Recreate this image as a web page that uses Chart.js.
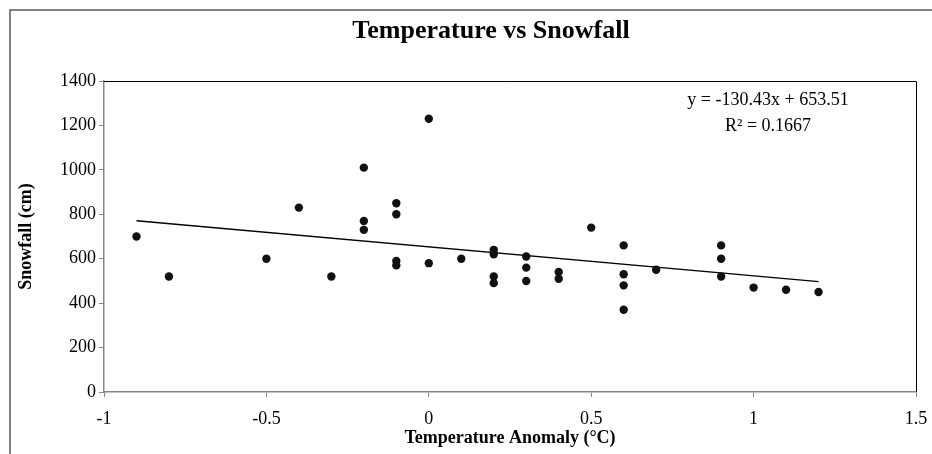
<!DOCTYPE html>
<html><head><meta charset="utf-8">
<script src="https://cdn.jsdelivr.net/npm/chart.js@4/dist/chart.umd.min.js"></script>
<style>html,body{margin:0;padding:0;background:#fff}#wrap{width:932px;height:454px;position:relative}</style>
</head><body><div id="wrap"><canvas id="c" width="932" height="454"></canvas></div>
<script>
// ---- data ----
const temperatureAnomaly = [-0.9,-0.8,-0.5,-0.4,-0.3,-0.2,-0.2,-0.2,-0.1,-0.1,-0.1,-0.1,0,0,0.1,0.2,0.2,0.2,0.2,0.3,0.3,0.3,0.4,0.4,0.5,0.6,0.6,0.6,0.6,0.7,0.9,0.9,0.9,1.0,1.1,1.2];
const snowfallCm        = [700,520,600,830,520,1010,770,730,850,800,590,570,1230,580,600,640,620,520,490,610,560,500,540,510,740,660,530,480,370,550,660,600,520,470,460,450];
const xTickValues = [-1,-0.5,0,0.5,1,1.5];
const yTickValues = [0,200,400,600,800,1000,1200,1400];
const trendSlope = -130.43;
const trendIntercept = 653.51;
const rSquared = 0.1667;
const titleText = 'Temperature vs Snowfall';
const xTitle = 'Temperature Anomaly (°C)';
const yTitle = 'Snowfall (cm)';

const FONT = "'Liberation Serif', 'Times New Roman', serif";
const points = temperatureAnomaly.map((t,i)=>({x:t,y:snowfallCm[i]}));
const xMin = Math.min(...temperatureAnomaly), xMax = Math.max(...temperatureAnomaly);
const trend = [{x:xMin,y:trendSlope*xMin+trendIntercept},{x:xMax,y:trendSlope*xMax+trendIntercept}];

const decor = {
  id:'decor',
  afterDraw(chart){
    const c = chart.ctx, a = chart.chartArea;
    c.save();
    // outer chart frame
    c.strokeStyle = '#595959'; c.lineWidth = 1.5;
    c.beginPath(); c.moveTo(10, 454); c.lineTo(10, 10); c.lineTo(932, 10); c.stroke();
    // plot area top/right border
    c.strokeStyle = '#000'; c.lineWidth = 1;
    c.beginPath(); c.moveTo(a.left, a.top+0.5); c.lineTo(a.right+0.5, a.top+0.5); c.lineTo(a.right+0.5, a.bottom); c.stroke();
    // title
    c.fillStyle = '#000'; c.textAlign = 'center'; c.textBaseline = 'middle';
    c.font = "bold 26px " + FONT;
    c.fillText(titleText, 491, 31);
    // trendline label
    c.font = "18px " + FONT;
    c.fillText('y = ' + trendSlope.toFixed(2) + 'x + ' + trendIntercept.toFixed(2), 768, 100);
    c.fillText('R² = ' + rSquared.toFixed(4), 768, 126);
    c.restore();
  }
};

new Chart(document.getElementById('c'), {
  type:'scatter',
  data:{datasets:[
    {label:'Snowfall', data:points, pointRadius:4.2, pointHoverRadius:4.2, backgroundColor:'#111', borderWidth:0, order:1},
    {label:'Trend', type:'line', data:trend, borderColor:'#000', borderWidth:1.3, pointRadius:0, fill:false, order:2}
  ]},
  options:{
    responsive:false, animation:false, devicePixelRatio:1,
    layout:{padding:{top:81,right:16,left:0,bottom:0}},
    plugins:{legend:{display:false}, title:{display:false}, tooltip:{enabled:false}},
    scales:{
      x:{type:'linear', min:-1, max:1.5,
        afterBuildTicks:s=>{s.ticks = xTickValues.map(v=>({value:v}));},
        afterFit:s=>{s.height = 62; s.paddingLeft = 0; s.paddingRight = 0;},
        ticks:{color:'#000', font:{family:FONT,size:18}, padding:11, maxRotation:0, callback:v=>String(v)},
        grid:{drawOnChartArea:false, drawTicks:true, tickLength:5, color:'#868686'},
        border:{display:true, color:'#868686', width:1.5},
        title:{display:true, text:xTitle, color:'#000', font:{family:FONT,size:18,weight:'bold'}, padding:{top:0,bottom:5}}
      },
      y:{type:'linear', min:0, max:1400,
        afterBuildTicks:s=>{s.ticks = yTickValues.map(v=>({value:v}));},
        afterFit:s=>{s.width = 104; s.paddingTop = 0; s.paddingBottom = 0;},
        ticks:{color:'#000', font:{family:FONT,size:18}, padding:3, callback:v=>String(v)},
        grid:{drawOnChartArea:false, drawTicks:true, tickLength:5, color:'#868686'},
        border:{display:true, color:'#868686', width:1.5},
        title:{display:true, text:yTitle, color:'#000', font:{family:FONT,size:18,weight:'bold'}, padding:{top:16,bottom:0}}
      }
    }
  },
  plugins:[decor]
});
</script></body></html>
